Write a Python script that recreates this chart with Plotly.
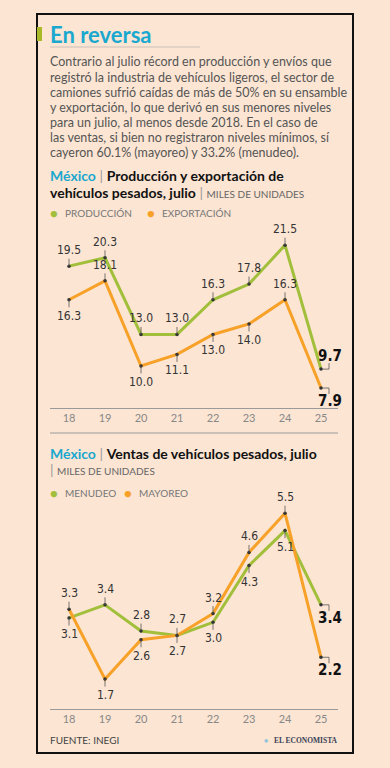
import plotly.graph_objects as go

# ---------------- data ----------------
years = ["18", "19", "20", "21", "22", "23", "24", "25"]
produccion = [19.5, 20.3, 13.0, 13.0, 16.3, 17.8, 21.5, 9.7]
exportacion = [16.3, 18.1, 10.0, 11.1, 13.0, 14.0, 16.3, 7.9]
menudeo = [3.1, 3.4, 2.8, 2.7, 3.0, 4.3, 5.1, 3.4]
mayoreo = [3.3, 1.7, 2.6, 2.7, 3.2, 4.6, 5.5, 2.2]
# label side: -1 above, +1 below
prod_side = [-1, -1, -1, -1, -1, -1, -1, -1]
exp_side = [1, -1, 1, 1, 1, 1, -1, 1]
men_side = [1, -1, -1, -1, 1, 1, 1, 1]
may_side = [-1, 1, 1, 1, -1, -1, -1, 1]

title = "En reversa"
body = [
    "Contrario al julio récord en producción y envíos que",
    "registró la industria de vehículos ligeros, el sector de",
    "camiones sufrió caídas de más de 50% en su ensamble",
    "y exportación, lo que derivó en sus menores niveles",
    "para un julio, al menos desde 2018. En el caso de",
    "las ventas, si bien no registraron niveles mínimos, sí",
    "cayeron 60.1% (mayoreo) y 33.2% (menudeo).",
]

W, H = 390, 768
BG = "#fce5d3"
GREEN = "#a2bf3b"
ORANGE = "#f7a128"
CYAN = "#1ba8cf"
TXT = "#555555"
NUMFONT = "DejaVu Sans Condensed, Liberation Sans Narrow, Roboto, sans-serif"
BODYFONT = "Lato, Noto Sans, sans-serif"
HEADFONT = "Lato, Noto Sans, sans-serif"


def X(px):
    return px / W


def Y(py):
    return 1 - py / H


fig = go.Figure()

series = [
    (produccion, GREEN, "x", "y", prod_side, "PRODUCCIÓN"),
    (exportacion, ORANGE, "x", "y", exp_side, "EXPORTACIÓN"),
    (menudeo, GREEN, "x2", "y2", men_side, "MENUDEO"),
    (mayoreo, ORANGE, "x2", "y2", may_side, "MAYOREO"),
]

for vals, col, xa, ya, side, name in series:
    fig.add_trace(go.Scatter(
        x=years, y=vals, xaxis=xa, yaxis=ya, mode="lines+markers",
        line=dict(color=col, width=3),
        marker=dict(size=3.5, color="#333333"),
        showlegend=False, hoverinfo="skip", name=name,
    ))

annotations = []
shapes = []

for vals, col, xa, ya, side, name in series:
    n = len(vals)
    for i, (v, s) in enumerate(zip(vals, side)):
        if i < n - 1:
            annotations.append(dict(
                x=i, y=v, xref=xa, yref=ya, text=f"{v:.1f}",
                showarrow=True, arrowhead=0, arrowwidth=0.8, arrowcolor="#555",
                ax=0, ay=16 * s, standoff=0,
                font=dict(family=NUMFONT, size=12, color="#333"),
            ))
        else:
            annotations.append(dict(
                x=i, y=v, xref=xa, yref=ya, text=f"<b>{v:.1f}</b>",
                showarrow=False, xshift=9, yshift=-13 * s,
                font=dict(family=NUMFONT, size=15, color="#111"),
            ))
            shapes.append(dict(
                type="path", xref=xa, yref=ya, xsizemode="pixel", ysizemode="pixel",
                xanchor=i, yanchor=v,
                path=f"M1,0 L8,0 L8,{-6 * s}",
                line=dict(color="#555", width=0.8),
            ))

# ---------- text blocks ----------
def txt(x, y, text, size, color=TXT, family=BODYFONT, xanchor="left"):
    annotations.append(dict(
        x=X(x), y=Y(y), xref="paper", yref="paper", text=text, showarrow=False,
        xanchor=xanchor, yanchor="middle", font=dict(family=family, size=size, color=color),
    ))

txt(48, 34, f"<b>{title}</b>", 22, color=CYAN, family=HEADFONT)
for k, line in enumerate(body):
    txt(48, 62 + 15.1 * k, line, 12.5)

sep = "<span style='color:#999'>|</span>"
txt(48, 176, f"<b><span style='color:{CYAN}'>México</span></b> {sep} <b>Producción y exportación de</b>", 14, color="#111", family=HEADFONT)
txt(48, 192, f"<b>vehículos pesados, julio</b> {sep} <span style='font-size:10px;color:#666'>MILES DE UNIDADES</span>", 14, color="#111", family=HEADFONT)
txt(48, 453, f"<b><span style='color:{CYAN}'>México</span></b> {sep} <b>Ventas de vehículos pesados, julio</b>", 14, color="#111", family=HEADFONT)
txt(48, 469, f"{sep} <span style='font-size:10px;color:#666'>MILES DE UNIDADES</span>", 14, color="#111", family=HEADFONT)

# legends
for (dx, tx, label, col, yy) in [
    (54, 63, "PRODUCCIÓN", GREEN, 213), (151, 160, "EXPORTACIÓN", ORANGE, 213),
    (54, 63, "MENUDEO", GREEN, 493), (128, 137, "MAYOREO", ORANGE, 493),
]:
    txt(dx, yy, "●", 13, color=col, xanchor="center")
    txt(tx, yy, label, 10, color="#777")

txt(48, 740, "FUENTE: INEGI", 10, color="#444")
txt(340, 740, "<b>EL ECONOMISTA</b>", 7.5, color="#3a3f55", family="Liberation Serif, DejaVu Serif, serif", xanchor="right")
txt(266, 740, "●", 7, color="#8fc3dc", xanchor="center")

# ---------- frame shapes ----------
shapes += [
    dict(type="rect", xref="paper", yref="paper", x0=X(37), x1=X(353), y0=Y(753), y1=Y(14),
         line=dict(color="#111", width=2), layer="below"),
    dict(type="rect", xref="paper", yref="paper", x0=X(37), x1=X(42), y0=Y(41), y1=Y(27),
         fillcolor="#a9b928", line=dict(width=0)),
    dict(type="line", xref="paper", yref="paper", x0=X(50), x1=X(200), y0=Y(47), y1=Y(47),
         line=dict(color="#c9c0b8", width=1)),
    dict(type="line", xref="paper", yref="paper", x0=X(50), x1=X(338), y0=Y(433), y1=Y(433),
         line=dict(color="#9a9a9a", width=1)),
]

xcommon = dict(
    type="category", domain=[X(50), X(338)], range=[-0.528, 7.472],
    showgrid=False, zeroline=False, showline=True, linecolor="#9a9a9a", linewidth=1,
    ticks="", tickfont=dict(family=BODYFONT, size=11, color="#888"), fixedrange=True,
)
ycommon = dict(visible=False, showgrid=False, zeroline=False, fixedrange=True)

fig.update_layout(
    width=W, height=H, margin=dict(l=0, r=0, t=0, b=0),
    paper_bgcolor=BG, plot_bgcolor=BG,
    xaxis=dict(**xcommon, anchor="y"),
    yaxis=dict(**ycommon, domain=[Y(408), Y(228)], range=[6.0, 23.13]),
    xaxis2=dict(**xcommon, anchor="y2"),
    yaxis2=dict(**ycommon, domain=[Y(709), Y(490)], range=[1.015, 6.03]),
    annotations=annotations, shapes=shapes, showlegend=False,
)

fig.write_html(
    "out.html",
    config={"displayModeBar": False},
    post_script="document.body.style.margin='0';document.documentElement.style.overflow='hidden';",
)
